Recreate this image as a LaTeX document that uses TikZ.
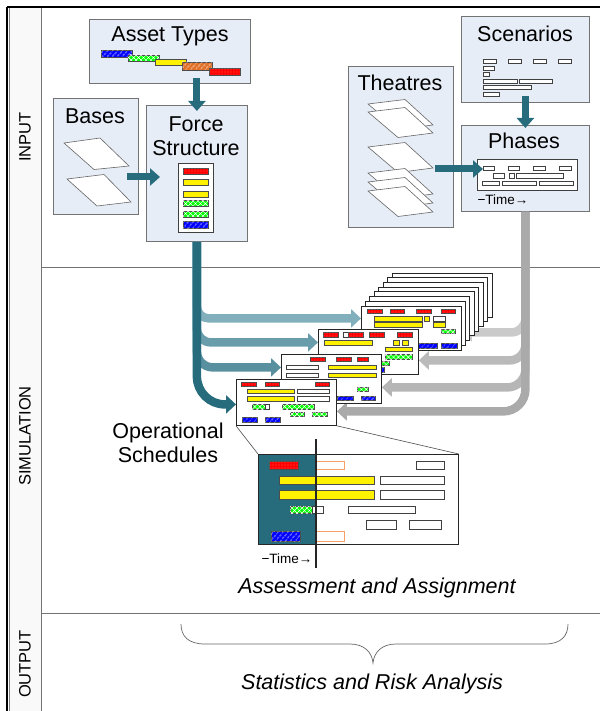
\documentclass[tikz,border=0pt]{standalone}
\usepackage{fontspec}
\setmainfont{Liberation Sans}
\usetikzlibrary{arrows.meta,patterns.meta,calc}
\definecolor{boxfill}{RGB}{231,237,247}
\definecolor{tealA}{RGB}{38,108,125}
\definecolor{tealB}{RGB}{88,144,160}
\definecolor{tealC}{RGB}{105,157,171}
\definecolor{tealD}{RGB}{130,175,188}
\definecolor{grayA}{RGB}{170,170,170}
\definecolor{grayB}{RGB}{182,182,182}
\definecolor{grayC}{RGB}{186,186,186}
\definecolor{grayD}{RGB}{202,202,202}
\definecolor{orangeA}{RGB}{224,112,40}
\definecolor{orangeL}{RGB}{245,160,100}
\begin{document}
\begin{tikzpicture}[x=1pt,y=-1pt,
  ibox/.style={draw=black!55, fill=boxfill, line width=0.8pt, anchor=north west, inner sep=0pt},
  ttl/.style={font=\fontsize{21.5}{25}\selectfont, inner sep=0pt},
  lane/.style={font=\fontsize{16.5}{20}\selectfont, rotate=90, inner sep=0pt},
  timetxt/.style={font=\fontsize{13.5}{15}\selectfont, inner sep=0pt},
  bar/.style={draw=black!70, line width=0.5pt},
  bred/.style={bar, fill=red, postaction={pattern={Dots[distance=3pt, radius=0.45pt]}, pattern color=white}},
  bgreen/.style={bar, fill=green, postaction={pattern={Hatch[angle=45, distance=3.5pt, line width=0.45pt]}, pattern color=white}},
  byellow/.style={bar, fill=yellow},
  bblue/.style={bar, fill=blue, postaction={pattern={Lines[angle=50, distance=4pt, line width=0.6pt]}, pattern color=white}},
  borange/.style={bar, fill=orangeA, postaction={pattern={Lines[angle=50, distance=4pt, line width=0.6pt]}, pattern color=white}},
  wrect/.style={draw=black!75, fill=white, line width=0.5pt},
  orect/.style={draw=orangeL, fill=white, line width=0.8pt},
  sheet/.style={draw=black!60, fill=white, line width=0.6pt},
  tarrow/.style={draw=tealA, line width=7pt, -{Triangle[width=17pt,length=10pt]}},
  flow/.style={line width=8.5pt, -{Triangle[width=18pt,length=10pt]}},
  card/.style={draw=black!85, fill=white, line width=0.8pt, anchor=north west, inner sep=0pt, minimum width=100pt},
  backcard/.style={draw=black!85, fill=white, line width=0.8pt}
]
\useasboundingbox (0,0) rectangle (600,711);
% ---------- lanes ----------
\fill[gray!5] (9.5,7) rectangle (41,711);
\draw[black!55, line width=0.8pt] (41,7) -- (41,711);
\draw[black!55, line width=0.8pt] (41,267) -- (600,267);
\draw[black!55, line width=0.8pt] (41,613) -- (600,613);
\draw[black, line width=1.3pt] (7,7) -- (600,7);
\draw[black, line width=1.3pt] (7,7) -- (7,711);
\draw[black!50, line width=0.6pt] (9.5,8) -- (9.5,711);
\node[lane] (lin) at (25,137) {INPUT};
\node[lane] (lsim) at (25,436) {SIMULATION};
\node[lane] (lout) at (25,664) {OUTPUT};

% ---------- input boxes ----------
\node[ibox, minimum width=161pt, minimum height=64pt] (asset) at (89,19) {};
\node[ibox, minimum width=85pt, minimum height=116pt] (bases) at (53,98) {};
\node[ibox, minimum width=101pt, minimum height=136pt] (force) at (146,105) {};
\node[ibox, minimum width=128pt, minimum height=86pt] (scen) at (461,16) {};
\node[ibox, minimum width=105pt, minimum height=161pt] (theat) at (348,66) {};
\node[ibox, minimum width=128pt, minimum height=86pt] (phases) at (461,125) {};

\node[ttl] (asset-t) at (170,36) {Asset Types};
\node[ttl] (bases-t) at (95,116) {Bases};
\node[ttl, align=center] (force-t) at (196,136) {Force\\[-1pt]Structure};
\node[ttl] (scen-t) at (525,34) {Scenarios};
\node[ttl] (theat-t) at (400,83) {Theatres};
\node[ttl] (phases-t) at (524,141) {Phases};

% asset type bars
\draw[bblue] (101,50) rectangle (132,57);
\draw[bgreen] (128,55) rectangle (159,61);
\draw[byellow] (155,59) rectangle (186,65);
\draw[borange] (182,62) rectangle (212,70);
\draw[bred] (209,68) rectangle (240,75);

% bases sheets
\draw[sheet] (64,143) -- ++(36,-5) -- ++(29,28) -- ++(-35,3.5) -- cycle;
\draw[sheet] (67,179) -- ++(37,-4.5) -- ++(27,27.5) -- ++(-34,4) -- cycle;

% force structure list
\node[wrect, line width=0.7pt, anchor=north west, minimum width=35pt, minimum height=69pt, inner sep=0pt] (fsl) at (178,163) {};
\draw[bred] (183,168) rectangle (208,174);
\draw[byellow] (183,179) rectangle (208,185);
\draw[byellow] (183,191) rectangle (208,197);
\draw[bgreen] (183,200) rectangle (208,206);
\draw[bgreen] (183,211) rectangle (208,217);
\draw[bblue] (183,221) rectangle (208,228);

% scenario rows
\foreach \a/\b/\c/\d in {483/59/496/63, 508/59/521/63, 533/59/546/63, 558/59/571/63,
  483/66/494/70, 483/72/489/76, 483/79/517/83, 519/79/552/83, 483/85/531/89, 483/92/499/96}
  \draw[wrect] (\a,\b) rectangle (\c,\d);

% theatre sheets
\foreach \yy in {104,112,147,173,182,191}
  \draw[sheet] (368,\yy) -- ++(37,-4.5) -- ++(28,25.5) -- ++(-35,4.5) -- cycle;

% phases timeline
\node[wrect, line width=0.7pt, anchor=north west, minimum width=100pt, minimum height=31pt, inner sep=0pt] (phin) at (477,159) {};
\foreach \a/\b/\c/\d in {483/166/494/170, 508/166/519/170, 533/166/545/170, 559/166/571/170,
  493/173/504/178, 509/173/514/178, 516/173/563/178,
  482/181/499/185, 502/181/536/185, 539/181/573/185}
  \draw[wrect] (\a,\b) rectangle (\c,\d);
\node[timetxt] (ph-time) at (503,200) {−Time→};

% ---------- input arrows ----------
\draw[tarrow, shorten <=-6pt, shorten >=-6pt] (force.north |- asset.south) -- (force.north);
\coordinate (ba-out) at (127,177);
\draw[tarrow, shorten >=-14pt] (ba-out) -- (ba-out -| force.west);
\draw[tarrow, shorten <=-7pt, shorten >=-3pt] (scen.south) -- (phases.north);
\coordinate (th-out) at (435,169);
\draw[tarrow, shorten >=-6pt] (th-out) -- (th-out -| phin.west);

% ---------- cards (nodes for anchors) ----------
\path (361,306) node[card, minimum height=44pt, draw=none, fill=none] (card4) {};
\path (318,329) node[card, minimum height=45pt, draw=none, fill=none] (card3) {};
\path (281,354) node[card, minimum height=49pt, draw=none, fill=none] (card2) {};
\path (236,379) node[card, minimum height=46pt, draw=none, fill=none] (card1) {};

% ---------- gray flows from phases ----------
\draw[flow, grayD, rounded corners=14pt] (phases.south) |- ([yshift=-4pt]card4.east);
\draw[flow, grayC, rounded corners=16pt] (phases.south) |- ([yshift=-8.5pt]card3.east);
\draw[flow, grayB, rounded corners=18pt] (phases.south) |- ([yshift=-8.5pt]card2.east);
\draw[flow, grayA, rounded corners=22pt] (phases.south) |- ([yshift=-9pt]card1.east);

% ---------- teal flows from force structure ----------
\draw[flow, tealD, rounded corners=12pt] (force.south) |- ([yshift=10pt]card4.west);
\draw[flow, tealC, rounded corners=14pt] (force.south) |- ([yshift=9.5pt]card3.west);
\draw[flow, tealB, rounded corners=16pt] (force.south) |- ([yshift=11.5pt]card2.west);
\draw[flow, tealA, rounded corners=28pt] (force.south) |- ([yshift=-2pt]card1.west);

% ---------- card stack ----------
\foreach \k in {7,6,...,1}
  \draw[backcard] ({361+4.43*\k},{306-4.71*\k}) rectangle ++(100,44);
\draw[backcard] (card4.north west) rectangle (card4.south east);
\draw[bred] (367,309) rectangle (382,313);
\draw[bred] (390,309) rectangle (404,313);
\draw[bred] (416,309) rectangle (431,313);
\draw[bred] (441,309) rectangle (455,313);
\draw[byellow] (374,316) rectangle (422,321);
\draw[byellow] (424,316) rectangle (429,321);
\draw[wrect] (433,316) rectangle (445,321);
\draw[byellow] (374,322) rectangle (422,327);
\draw[byellow] (433,322) rectangle (445,327);
\draw[bgreen] (441,329) rectangle (455,333);
\draw[bblue] (417,343) rectangle (437,348);
\draw[bblue] (441,343) rectangle (457,348);

\draw[backcard] (card3.north west) rectangle (card3.south east);
\draw[bred] (323,332) rectangle (338,337);
\draw[wrect] (343,332) rectangle (348,337);
\draw[bred] (348,332) rectangle (363,337);
\draw[bred] (369,332) rectangle (384,337);
\draw[bred] (397,332) rectangle (412,337);
\draw[byellow] (324,340) rectangle (372,345);
\draw[byellow] (393,340) rectangle (399,345);
\draw[byellow] (402,340) rectangle (408,345);
\draw[byellow] (385,347) rectangle (412,351);
\draw[bgreen] (385,354) rectangle (412,359);
\draw[bgreen] (360,361) rectangle (389,365);
\draw[bblue] (350,367) rectangle (384,372);

\draw[backcard] (card2.north west) rectangle (card2.south east);
\draw[bred] (310,357) rectangle (325,361);
\draw[bred] (336,357) rectangle (351,361);
\draw[bred] (357,357) rectangle (368,361);
\draw[wrect] (286,365) rectangle (318,369);
\draw[byellow] (328,365) rectangle (376,369);
\draw[wrect] (286,373) rectangle (318,377);
\draw[byellow] (328,373) rectangle (376,377);
\draw[bgreen] (357,387) rectangle (368,391);
\draw[bblue] (337,396) rectangle (353,400);
\draw[bblue] (361,396) rectangle (375,400);

\draw[backcard] (card1.north west) rectangle (card1.south east);
\draw[bred] (241,382) rectangle (256,386);
\draw[bred] (265,382) rectangle (279,386);
\draw[bred] (315,382) rectangle (329,386);
\draw[byellow] (247,389) rectangle (294,393);
\draw[wrect] (297,389) rectangle (329,393);
\draw[byellow] (247,396) rectangle (294,401);
\draw[wrect] (297,396) rectangle (329,401);
\draw[bgreen] (252,404) rectangle (265,409);
\draw[wrect] (265,404) rectangle (269,409);
\draw[bgreen] (282,404) rectangle (314,409);
\draw[bgreen] (290,412) rectangle (304,416);
\draw[bgreen] (312,412) rectangle (327,416);
\draw[bblue] (242,417) rectangle (257,422);
\draw[bblue] (265,417) rectangle (280,422);

\node[ttl, align=center] (ops) at (168,443) {Operational\\[-1pt]Schedules};

% ---------- zoom panel ----------
\node[draw=black!85, fill=white, line width=0.8pt, anchor=north west, inner sep=0pt, minimum width=200pt, minimum height=90pt] (panel) at (258,454) {};
\draw[black!70, line width=0.6pt] (card1.south west) -- (panel.north west);
\draw[black!70, line width=0.6pt] (card1.south east) -- (panel.north east);
\fill[tealA] (258,454) rectangle (316,544);
\draw[black!85, line width=0.8pt] (panel.north west) rectangle (panel.south east);
\draw[bred] (269,461) rectangle (298,469);
\draw[orect] (316,461) rectangle (344,469);
\draw[wrect] (416,461) rectangle (444,469);
\draw[byellow] (279,476) rectangle (374,484);
\draw[wrect] (380,476) rectangle (444,484);
\draw[byellow] (279,490) rectangle (374,499);
\draw[wrect] (380,490) rectangle (444,499);
\draw[bgreen] (290,506) rectangle (312,513);
\draw[wrect] (312,506) rectangle (323,513);
\draw[wrect] (348,506) rectangle (415,513);
\draw[wrect] (366,520) rectangle (396,529);
\draw[wrect] (409,520) rectangle (441,529);
\draw[bblue] (271,531) rectangle (300,541);
\draw[orect] (316,531) rectangle (344,541);
\draw[black!85, line width=1.2pt] (316,439) -- (316,568);
\node[timetxt] (pan-time) at (287,559) {−Time→};

% ---------- output ----------
\node[ttl, font=\fontsize{21.5}{25}\itshape] (assess) at (377,588) {Assessment and Assignment};
\draw[black!60, line width=0.7pt] (181,624) .. controls (181,636) and (188,644) .. (205,644) -- (350,644)
  .. controls (364,644) and (372,652) .. (373,663)
  .. controls (374,652) and (382,644) .. (396,644) -- (545,644)
  .. controls (561,644) and (568,636) .. (568,624);
\node[ttl, font=\fontsize{21.5}{25}\itshape] (stats) at (372,684) {Statistics and Risk Analysis};
\end{tikzpicture}
\end{document}
